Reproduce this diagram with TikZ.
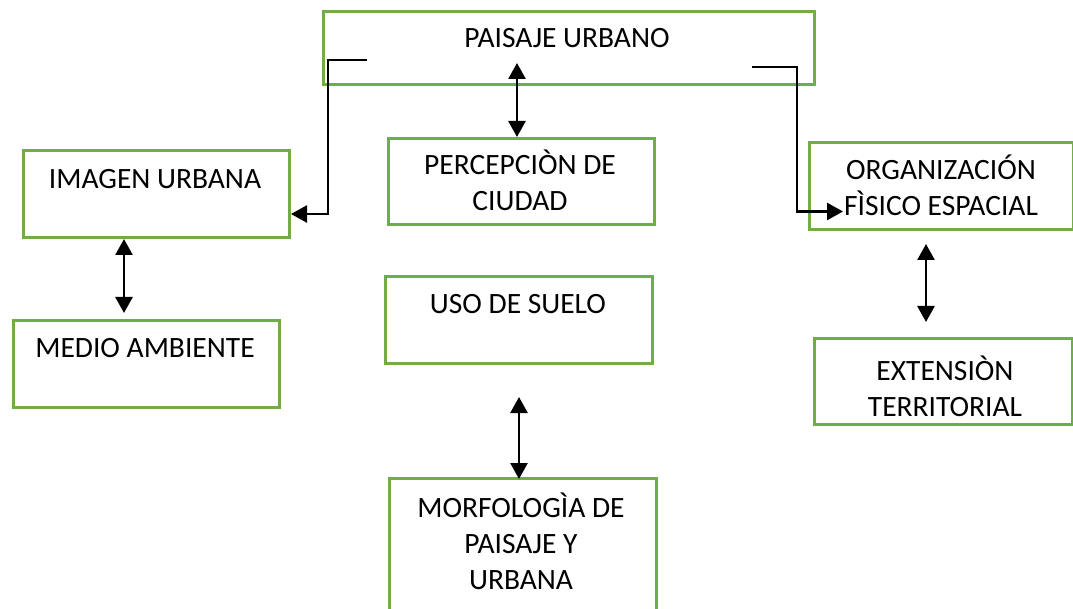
\documentclass[tikz,border=0pt]{standalone}
\usepackage{fontspec}
\setmainfont{Carlito}
\usetikzlibrary{arrows.meta}
\definecolor{boxgreen}{RGB}{112,173,71}
\begin{document}
\begin{tikzpicture}[x=1pt,y=-1pt,
  box/.style={draw=boxgreen,line width=3pt,rectangle,anchor=north west,inner sep=0pt},
  txt/.style={align=center,anchor=base,inner sep=0pt,font=\fontsize{29.5}{36}\selectfont},
  conn/.style={line width=2.6pt,-{Triangle[length=16pt,width=17pt]}},
  dbl/.style={line width=2.6pt,{Triangle[length=16pt,width=17pt]}-{Triangle[length=16pt,width=17pt]}}]
\useasboundingbox (0,0) rectangle (1073,609);
\clip (0,0) rectangle (1073,609);
\fill[white] (0,0) rectangle (1073,609);
% boxes
\node[box,minimum width=491pt,minimum height=73pt] (paisaje) at (322,10) {};
\node[box,minimum width=266pt,minimum height=87pt] (imagen) at (22,149) {};
\node[box,minimum width=266pt,minimum height=86pt] (percepcion) at (387,137) {};
\node[box,minimum width=264pt,minimum height=87pt] (org) at (808,141) {};
\node[box,minimum width=266pt,minimum height=87pt] (medio) at (12,319) {};
\node[box,minimum width=267pt,minimum height=87pt] (uso) at (384,275) {};
\node[box,minimum width=258pt,minimum height=86pt] (ext) at (813,337) {};
\node[box,minimum width=267pt,minimum height=160pt] (morf) at (388,477) {};
% texts (base anchor = baseline of last line)
\node[txt] (tpaisaje) at (567,48) {PAISAJE URBANO};
\node[txt] (timagen) at (155,189) {IMAGEN URBANA};
\node[txt] (tpercepcion) at (520,211) {PERCEPCIÒN DE\\CIUDAD};
\node[txt] (torg) at (941,216) {ORGANIZACIÓN\\FÌSICO ESPACIAL};
\node[txt] (tmedio) at (145,357) {MEDIO AMBIENTE};
\node[txt] (tuso) at (518,314) {USO DE SUELO};
\node[txt] (text) at (945,416) {EXTENSIÒN\\TERRITORIAL};
\node[txt] (tmorf) at (521,589) {MORFOLOGÌA DE\\PAISAJE Y\\URBANA};
% free ends
\coordinate (l0) at (367,60);
\coordinate (r0) at (752,67);
\coordinate (c0) at (517,63);
\coordinate (m1) at (124,313);
\coordinate (e0) at (926,244);
\coordinate (e1) at (926,322);
\coordinate (u0) at (519,397);
% connectors
\draw[conn] (l0) -- (328,60) |- ([yshift=-20pt]imagen.east);
\draw[conn] (r0) -- (797,67) |- ([xshift=35pt,yshift=-25.5pt]org.west);
\draw[dbl] (c0) -- (c0 |- percepcion.north);
\draw[dbl] (m1 |- imagen.south) -- (m1);
\draw[dbl] (e0) -- (e1);
\draw[dbl] (u0) -- ([yshift=-2pt]u0 |- morf.north);
\end{tikzpicture}
\end{document}
